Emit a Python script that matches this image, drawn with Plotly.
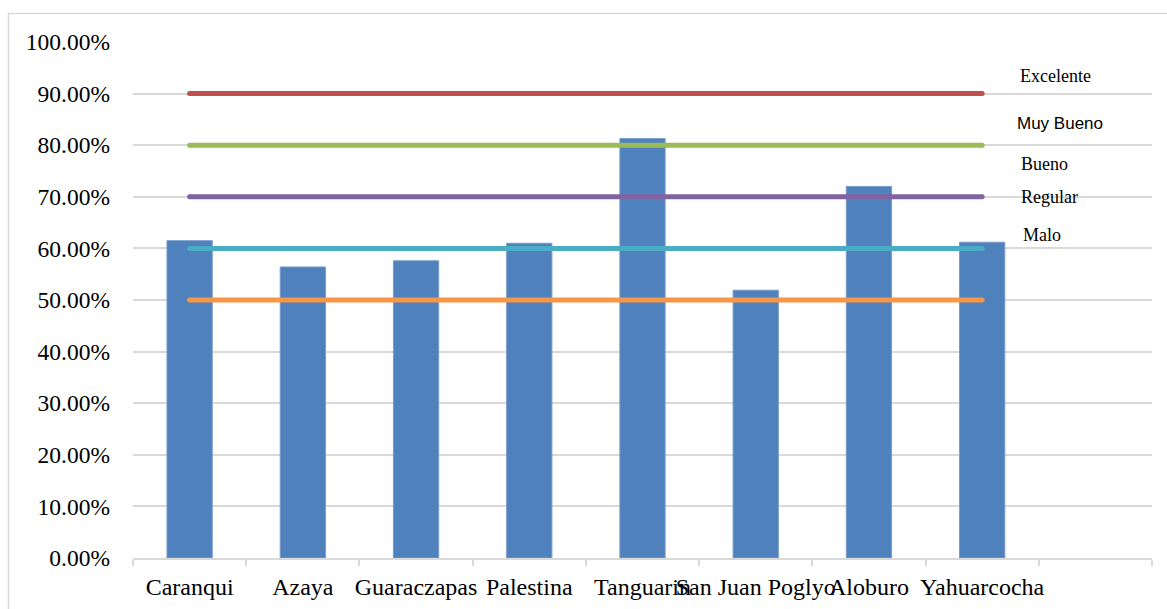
import plotly.graph_objects as go

# Communities and their evaluated percentage
communities = ["Caranqui", "Azaya", "Guaraczapas", "Palestina", "Tanguarin",
               "San Juan Poglyo", "Aloburo", "Yahuarcocha"]
scores = [0.615, 0.564, 0.576, 0.610, 0.813, 0.519, 0.720, 0.612]

# Rating thresholds drawn as horizontal reference lines
threshold_values = [0.90, 0.80, 0.70, 0.60, 0.50]
threshold_colors = ["#C0504D", "#9BBB59", "#8064A2", "#4BACC6", "#F79646"]

# Rating labels and their vertical positions
rating_labels = ["Excelente", "Muy Bueno", "Bueno", "Regular", "Malo"]
rating_label_y = [0.934, 0.843, 0.764, 0.700, 0.626]
rating_label_fonts = ["Liberation Serif", "Liberation Sans", "Liberation Serif",
                      "Liberation Serif", "Liberation Serif"]
rating_label_sizes = [18, 17, 18, 18, 18]
rating_label_x = [1018, 1015, 1019, 1019, 1021]

# An empty trailing category keeps the free space on the right of the axis
all_categories = communities + [" "]

SERIF = "Liberation Serif"

W, H = 1167, 609
L, R, T, B = 133, 15, 42, 51
plot_w = W - L - R
plot_h = H - T - B

fig = go.Figure()

fig.add_trace(go.Bar(
    x=communities, y=scores, width=0.4,
    marker=dict(color="#4F81BD", line=dict(color="#7A9CCB", width=1)),
    showlegend=False, hoverinfo="x+y",
))

for val, col in zip(threshold_values, threshold_colors):
    fig.add_trace(go.Scatter(
        x=communities, y=[val] * len(communities), mode="lines",
        line=dict(color=col, width=5), showlegend=False,
    ))
    # rounded ends of each threshold line
    fig.add_trace(go.Scatter(
        x=[communities[0], communities[-1]], y=[val, val], mode="markers",
        marker=dict(color=col, size=5, line=dict(width=0)),
        showlegend=False, hoverinfo="skip",
    ))

for lab, yv, fnt, sz, px in zip(rating_labels, rating_label_y, rating_label_fonts,
                                rating_label_sizes, rating_label_x):
    fig.add_annotation(
        x=(px - L) / plot_w, xref="paper", xanchor="left",
        y=yv, yref="y", yanchor="middle",
        text=lab, showarrow=False,
        font=dict(family=fnt, size=sz, color="#000000"),
    )

# Outer chart border
fig.add_shape(
    type="rect", xref="paper", yref="paper",
    x0=(8.5 - L) / plot_w, x1=(W + 10 - L) / plot_w,
    y0=(T + plot_h - (H + 10)) / plot_h, y1=(T + plot_h - 13.5) / plot_h,
    line=dict(color="#D9D9D9", width=1.5), fillcolor="rgba(0,0,0,0)", layer="below",
)

fig.update_layout(
    width=W, height=H,
    margin=dict(l=L, r=R, t=T, b=B),
    paper_bgcolor="white", plot_bgcolor="white",
    font=dict(family=SERIF, size=22, color="#000000"),
    bargap=0.6,
    xaxis=dict(
        type="category", categoryorder="array", categoryarray=all_categories,
        range=[-0.5, len(all_categories) - 0.5],
        tickson="boundaries", ticks="outside", ticklen=6, tickcolor="#D9D9D9",
        tickwidth=1.5, ticklabelstandoff=6,
        showline=True, linecolor="#D9D9D9", linewidth=1.5,
        showgrid=False, tickangle=0, automargin=False,
        tickfont=dict(family=SERIF, size=24, color="#000000"), fixedrange=True,
    ),
    yaxis=dict(
        range=[0, 1.0], tickvals=[i / 10 for i in range(11)], tickformat=".2%",
        showgrid=True, gridcolor="#D9D9D9", gridwidth=1.5,
        zeroline=False, showline=False, ticks="", automargin=False,
        ticklabelstandoff=22, tickfont=dict(family=SERIF, size=23.5, color="#000000"),
        fixedrange=True,
    ),
)

fig.write_html("out.html")
